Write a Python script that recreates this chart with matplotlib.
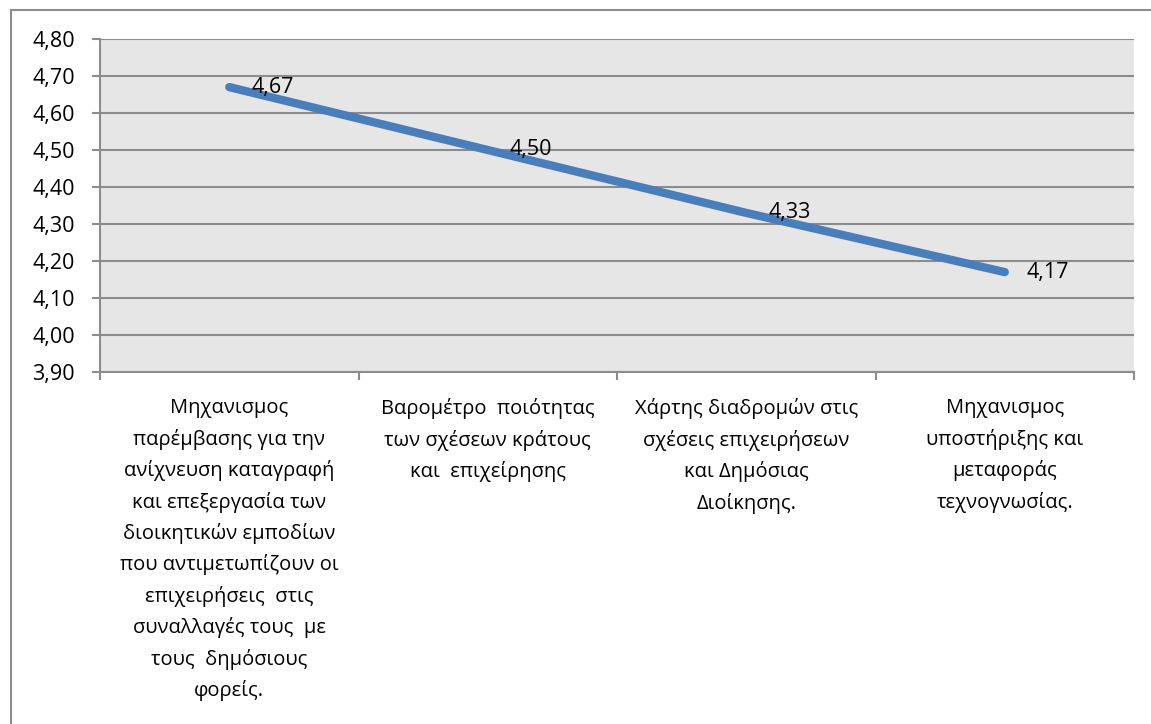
import matplotlib
matplotlib.use('Agg')
import matplotlib.pyplot as plt
import matplotlib.patches as patches
from matplotlib.ticker import FixedLocator

plt.rcParams['font.family'] = ['Open Sans', 'DejaVu Sans']

# Dados
categorias = [
    "Μηχανισμος\nπαρέμβασης για την\nανίχνευση καταγραφή\nκαι επεξεργασία των\nδιοικητικών εμποδίων\nπου αντιμετωπίζουν οι\nεπιχειρήσεις  στις\nσυναλλαγές τους  με\nτους  δημόσιους\nφορείς.",
    "Βαρομέτρο  ποιότητας\nτων σχέσεων κράτους\nκαι  επιχείρησης",
    "Χάρτης διαδρομών στις\nσχέσεις επιχειρήσεων\nκαι Δημόσιας\nΔιοίκησης.",
    "Μηχανισμος\nυποστήριξης και\nμεταφοράς\nτεχνογνωσίας.",
]
valores = [4.67, 4.50, 4.33, 4.17]
rotulos = ["4,67", "4,50", "4,33", "4,17"]
yticks = [3.9, 4.0, 4.1, 4.2, 4.3, 4.4, 4.5, 4.6, 4.7, 4.8]

fig = plt.figure(figsize=(11.51, 7.24), dpi=100)
ax = fig.add_axes([100 / 1151, 1 - 372 / 724, 1034 / 1151, 333 / 724])

# Moldura do gráfico
fig.patches.append(patches.Rectangle((11 / 1151, -0.05), 1.2, 1 - 10 / 724 + 0.05,
                                     transform=fig.transFigure, fill=False,
                                     edgecolor='#8c8c8c', linewidth=1.5))

ax.set_facecolor('#e6e6e6')
x = list(range(len(valores)))
ax.plot(x, valores, color='#4a7ebb', linewidth=6, solid_capstyle='round', zorder=3)

for xi, v, r in zip(x, valores, rotulos):
    ax.annotate(r, (xi, v), xytext=(16, 0), textcoords='offset points',
                ha='left', va='center', fontsize=15.5, color='black', zorder=4)

ax.set_xlim(-0.5, 3.5)
ax.set_ylim(3.9, 4.8)
ax.set_yticks(yticks)
ax.set_yticklabels([f"{t:.2f}".replace('.', ',') for t in yticks], fontsize=15.5)
ax.yaxis.grid(True, color='#8c8c8c', linewidth=1.5)
ax.set_axisbelow(True)

ax.set_xticks(x)
ax.set_xticklabels(categorias, fontsize=14.5, linespacing=1.65, va='top')
ax.xaxis.set_minor_locator(FixedLocator([-0.5, 0.5, 1.5, 2.5, 3.5]))
ax.tick_params(axis='x', which='major', length=0, pad=19)
ax.tick_params(axis='x', which='minor', length=6, color='#8c8c8c', width=1.5)
ax.tick_params(axis='y', length=6, color='#8c8c8c', width=1.5, pad=12)

for lado in ['top', 'right']:
    ax.spines[lado].set_visible(False)
for lado in ['left', 'bottom']:
    ax.spines[lado].set_color('#8c8c8c')
    ax.spines[lado].set_linewidth(1.5)

fig.savefig('out.png', dpi=100)
